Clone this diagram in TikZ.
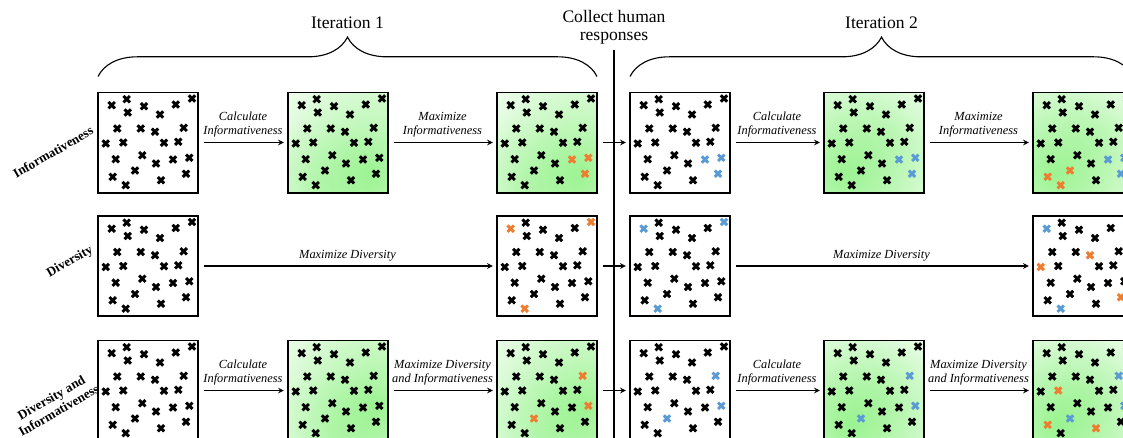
\documentclass[tikz,border=0pt]{standalone}
\usepackage{fontspec}
\setmainfont{Liberation Serif}
\usepackage{tikz}
\usetikzlibrary{arrows}
\usetikzlibrary{decorations.pathreplacing}
\definecolor{orng}{RGB}{237,125,49}
\definecolor{blu}{RGB}{91,155,213}
\definecolor{grn}{RGB}{160,244,150}

\tikzset{
  panel/.style={draw, line width=1.4pt, minimum width=2.5cm, minimum height=2.5cm, inner sep=0pt, outer sep=0pt},
  xmark/.style={line width=2.1pt},
  conn/.style={-stealth, line width=0.8pt, shorten <=4pt, shorten >=3pt},
  lbl/.style={font=\fontsize{8.8}{10}\selectfont\itshape, align=center},
  rowlbl/.style={font=\fontsize{9.3}{10.5}\selectfont\bfseries, align=center, rotate=30},
  ttl/.style={font=\fontsize{12.5}{13}\selectfont, align=center}
}

% the 25 points of every panel (px from its top left corner)
\def\ptlist{13.7/12.7, 28.7/6.7, 29.7/20, 46/13.7, 62/22, 77.7/12, 94/6,
  19.3/36, 42.7/36, 57/39.3, 85.7/35.3, 7.7/51, 25.3/50, 66/50.3, 80.3/49.3,
  17.7/66.7, 44.3/62.7, 58/71, 75/67, 91.3/65.3, 37/78, 14.7/84.3, 27.7/92.7,
  63/87.7, 88/81.3}

% #1 panel, #2 orange points, #3 blue points
\newcommand{\crosses}[3]{%
  \begin{scope}[shift={(#1.north west)}]
  \foreach \px/\py [count=\k] in \ptlist {
    \xdef\mc{black}
    \foreach \o in {#2} {\ifnum\o=\k \xdef\mc{orng}\fi}
    \foreach \b in {#3} {\ifnum\b=\k \xdef\mc{blu}\fi}
    \draw[xmark, \mc] (\px-3.2,\py-3.2) -- (\px+3.2,\py+3.2)
                      (\px-3.2,\py+3.2) -- (\px+3.2,\py-3.2);
  }
  \end{scope}}

% #1 panel, #2 list of spots x/y/r/colour
\newcommand{\greenfill}[2]{%
  \begin{scope}
  \clip (#1.north west) rectangle (#1.south east);
  \begin{scope}[shift={(#1.north west)}, blend mode=multiply]
  \foreach \cx/\cy/\r/\c in {#2} {
    \shade[inner color=\c, outer color=white] (\cx,\cy) circle (\r);
  }
  \end{scope}
  \end{scope}}

\begin{document}
\begin{tikzpicture}[x=0.025cm, y=-0.025cm]
\useasboundingbox (0,0) rectangle (1123,437);

% panels
\node[panel] (inf1) at (148,142.5) {};
\node[panel] (inf2) at (338,142.5) {};
\node[panel] (inf3) at (547,142.5) {};
\node[panel] (inf4) at (680,142.5) {};
\node[panel] (inf5) at (874,142.5) {};
\node[panel] (inf6) at (1083,142.5) {};

\node[panel] (div1) at (148,266) {};
\node[panel] (div3) at (547,266) {};
\node[panel] (div4) at (680,266) {};
\node[panel] (div6) at (1083,266) {};

\node[panel] (both1) at (148,390.5) {};
\node[panel] (both2) at (338,390.5) {};
\node[panel] (both3) at (547,390.5) {};
\node[panel] (both4) at (680,390.5) {};
\node[panel] (both5) at (874,390.5) {};
\node[panel] (both6) at (1083,390.5) {};

% informativeness maps
\greenfill{inf2}{85/80/140/grn, 30/95/70/grn!30}
\greenfill{inf3}{85/80/140/grn, 30/95/70/grn!30}
\greenfill{inf5}{20/82/140/grn, 60/45/70/grn!25}
\greenfill{inf6}{20/82/140/grn, 60/45/70/grn!25}
\greenfill{both2}{88/65/140/grn, 45/98/70/grn!30}
\greenfill{both3}{88/65/140/grn, 45/98/70/grn!30}
\greenfill{both5}{25/85/140/grn, 55/55/70/grn!25}
\greenfill{both6}{25/85/140/grn, 55/55/70/grn!25}

% points
\crosses{inf1}{0}{0}
\crosses{inf2}{0}{0}
\crosses{inf3}{0,19,20,25}{0}
\crosses{inf4}{0}{0,19,20,25}
\crosses{inf5}{0}{0,19,20,25}
\crosses{inf6}{0,21,22,23}{0,19,20,25}
\crosses{div1}{0}{0}
\crosses{div3}{0,1,7,23}{0}
\crosses{div4}{0}{0,1,7,23}
\crosses{div6}{0,10,12,25}{0,1,7,23}
\crosses{both1}{0}{0}
\crosses{both2}{0}{0}
\crosses{both3}{0,11,20,21}{0}
\crosses{both4}{0}{0,11,20,21}
\crosses{both5}{0}{0,11,20,21}
\crosses{both6}{0,13,22,24}{0,11,20,21}

% row labels
\node[rowlbl] (rinf) at (53,152) {Informativeness};
\node[rowlbl] (rdiv) at (70,262) {Diversity};
\node[rowlbl] (rboth) at (55,404) {Diversity and\\Informativeness};

% steps
\path[conn]
  (inf1) edge node[lbl, above] {Calculate\\Informativeness} (inf2)
  (inf2) edge node[lbl, above] {Maximize\\Informativeness} (inf3)
  (inf3) edge (inf4)
  (inf4) edge node[lbl, above] {Calculate\\Informativeness} (inf5)
  (inf5) edge node[lbl, above] {Maximize\\Informativeness} (inf6)
  (div1) edge node[lbl, above] {Maximize Diversity} (div3)
  (div3) edge (div4)
  (div4) edge node[lbl, above] {Maximize Diversity} (div6)
  (both1) edge node[lbl, above] {Calculate\\Informativeness} (both2)
  (both2) edge node[lbl, above] {Maximize Diversity\\and Informativeness} (both3)
  (both3) edge (both4)
  (both4) edge node[lbl, above] {Calculate\\Informativeness} (both5)
  (both5) edge node[lbl, above] {Maximize Diversity\\and Informativeness} (both6);

% iterations
\draw[line width=0.8pt, decorate, decoration={brace, amplitude=28pt}]
  ([yshift=0.4cm]inf1.north west) -- ([yshift=0.4cm]inf3.north east)
  node[midway, above=30pt, ttl] (it1) {Iteration 1};
\draw[line width=0.8pt, decorate, decoration={brace, amplitude=28pt}]
  ([yshift=0.4cm]inf4.north west) -- ([yshift=0.4cm]inf6.north east)
  node[midway, above=30pt, ttl] (it2) {Iteration 2};

% human feedback
\node[ttl] (collect) at (614,27) {Collect human\\responses};
\coordinate (divtop) at (614,50);
\coordinate (divbot) at (614,445);
\draw[line width=0.9pt] (divtop) -- (divbot);
\end{tikzpicture}
\end{document}
